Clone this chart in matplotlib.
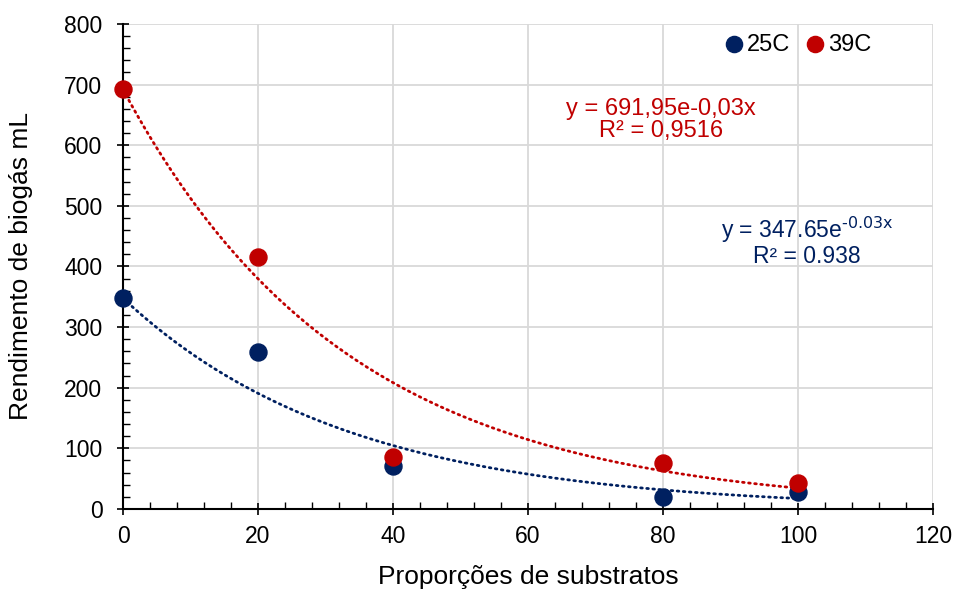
import numpy as np
import matplotlib
matplotlib.use("Agg")
import matplotlib.pyplot as plt

plt.rcParams['font.family'] = ['Liberation Sans', 'DejaVu Sans']
plt.rcParams['mathtext.default'] = 'regular'

# data
proportions = [0, 20, 40, 80, 100]
yield_25c = [348, 259, 71, 20, 28]
yield_39c = [692, 416, 86, 76, 43]

# trendline coefficients (from the labels)
fit_25c = (347.65, -0.03)
fit_39c = (691.95, -0.03)

blue = '#002060'
red = '#C00000'

fig = plt.figure(figsize=(9.55, 5.94), dpi=100)
ax = fig.add_axes([0.1288, 0.1431, 0.977 - 0.1288, 0.9596 - 0.1431])

# trendlines
xs = np.linspace(0, 100, 200)
for (a, b), c in [(fit_25c, blue), (fit_39c, red)]:
    ax.plot(xs, a * np.exp(b * xs), color=c, lw=2.0,
            linestyle=(0, (0.6, 1.6)), dash_capstyle='round', zorder=2)

ax.scatter(proportions, yield_25c, s=150, color=blue, label='25C', zorder=3, clip_on=False)
ax.scatter(proportions, yield_39c, s=150, color=red, label='39C', zorder=3, clip_on=False)

ax.set_xlim(0, 120)
ax.set_ylim(0, 800)
ax.set_xticks(range(0, 121, 20))
ax.set_yticks(range(0, 801, 100))
ax.set_xticks(range(0, 121, 4), minor=True)
ax.set_yticks(range(0, 801, 20), minor=True)
ax.tick_params(which='major', direction='inout', length=8.6, width=1.2,
               labelsize=16.5, colors='black')
ax.tick_params(axis='y', which='major', pad=10.5)
ax.tick_params(axis='x', which='major', pad=7)
ax.tick_params(which='minor', direction='in', length=5, width=1.0)
ax.grid(True, which='major', color='#d9d9d9', lw=1.3, zorder=0)
ax.set_axisbelow(True)

for s in ['top', 'right']:
    ax.spines[s].set_visible(False)
for s in ['left', 'bottom']:
    ax.spines[s].set_linewidth(1.5)

ax.set_xlabel('Proporções de substratos', fontsize=19)
ax.set_ylabel('Rendimento de biogás mL', fontsize=19)
ax.xaxis.set_label_coords(0.5, -0.115)
ax.yaxis.set_label_coords(-0.111, 0.5)

ax.legend(loc='upper right', bbox_to_anchor=(0.95, 1.024), ncol=2, frameon=False,
          fontsize=17, handletextpad=-0.45, columnspacing=0.05, markerscale=0.95)

ax.text(0.664, 0.802, 'y = 691,95e-0,03x\nR² = 0,9516', transform=ax.transAxes,
        color=red, fontsize=17, ha='center', va='center', linespacing=1.05)
ax.text(0.8445, 0.5526, 'y = 347.65e$^{\\text{-0.03x}}$\nR² = 0.938', transform=ax.transAxes,
        color=blue, fontsize=16.5, ha='center', va='center', linespacing=1.0)

fig.savefig('out.png', dpi=100)
